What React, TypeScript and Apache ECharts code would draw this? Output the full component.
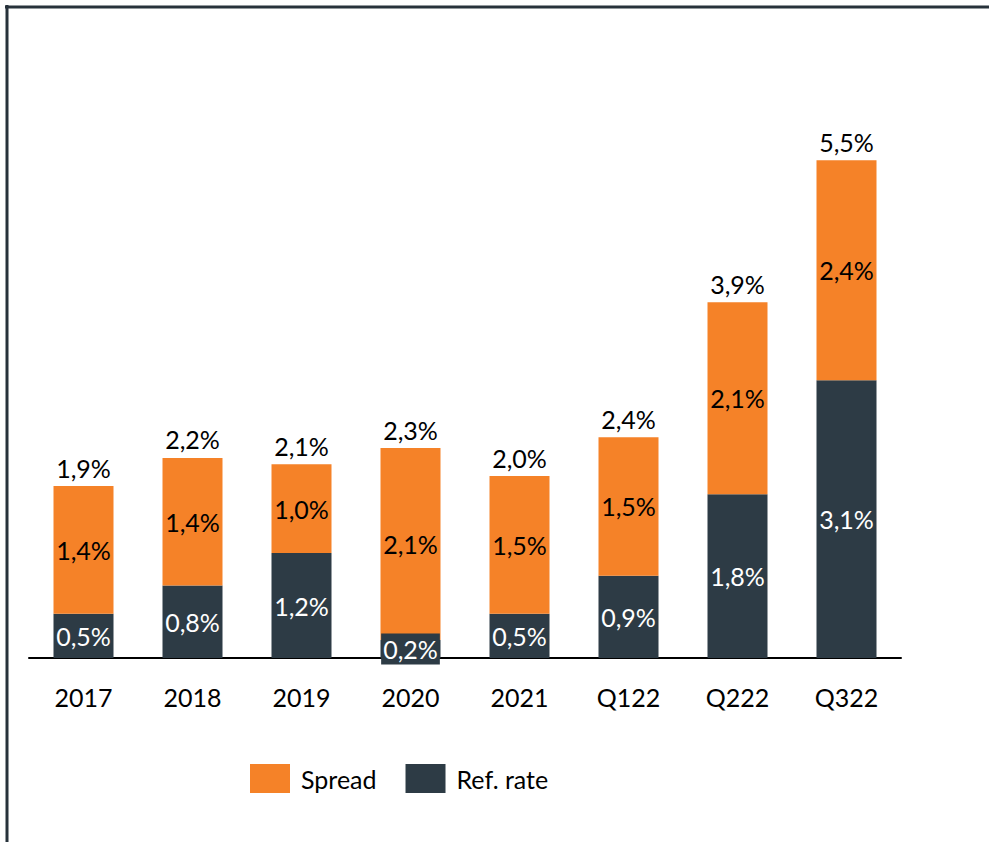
import React, { useEffect, useRef } from 'react';
import * as echarts from 'echarts';

const categories = ['2017', '2018', '2019', '2020', '2021', 'Q122', 'Q222', 'Q322'];
const refRate = [0.49, 0.8, 1.16, 0.2, 0.49, 0.91, 1.81, 3.07];
const spread = [1.41, 1.41, 0.98, 2.12, 1.52, 1.53, 2.12, 2.43];

const ORANGE = '#F58228';
const DARK = '#2D3B45';
const FONT = 'Lato';
const FS = 25;

const fmt = (v: number) => v.toFixed(1).replace('.', ',') + '%';

export default function App() {
  const ref = useRef<HTMLDivElement>(null);
  useEffect(() => {
    if (!ref.current) return;
    const chart = echarts.init(ref.current, null, { renderer: 'svg' });
    const totals = refRate.map((r, i) => r + spread[i]);
    chart.setOption({
      animation: false,
      textStyle: { fontFamily: FONT },
      graphic: [
        { type: 'line', shape: { x1: 5, y1: 7, x2: 989, y2: 7 }, style: { stroke: '#27323B', lineWidth: 3 } },
        { type: 'line', shape: { x1: 7, y1: 5, x2: 7, y2: 842 }, style: { stroke: '#27323B', lineWidth: 3 } },
      ],
      legend: {
        data: ['Spread', 'Ref. rate'],
        left: 245,
        top: 759,
        icon: 'rect',
        itemWidth: 40,
        itemHeight: 29,
        itemGap: 29,
        textStyle: { fontSize: FS, color: '#000', fontFamily: FONT, padding: [0, 0, 0, 6] },
      },
      grid: { left: 29, width: 872, top: 115, height: 543 },
      xAxis: {
        type: 'category',
        data: categories,
        axisLine: { lineStyle: { color: '#000', width: 2 } },
        axisTick: { show: false },
        axisLabel: { fontSize: FS, color: '#000', margin: 26, fontFamily: FONT },
      },
      yAxis: { type: 'value', min: 0, max: 6, show: false, splitLine: { show: false } },
      series: [
        {
          name: 'Ref. rate',
          type: 'bar',
          stack: 'a',
          barWidth: 60,
          itemStyle: { color: DARK },
          data: refRate.map((v, i) =>
            i === 3
              ? {
                  value: v,
                  label: { backgroundColor: DARK, padding: [4, 2, 2, 2] },
                }
              : v
          ),
          label: {
            show: true,
            position: 'inside',
            color: '#fff',
            fontSize: FS,
            fontFamily: FONT,
            formatter: (p: any) => fmt(refRate[p.dataIndex]),
          },
        },
        {
          name: 'Spread',
          type: 'bar',
          stack: 'a',
          barWidth: 60,
          itemStyle: { color: ORANGE },
          data: spread,
          label: {
            show: true,
            position: 'inside',
            color: '#000',
            fontSize: FS,
            fontFamily: FONT,
            formatter: (p: any) => fmt(spread[p.dataIndex]),
          },
        },
        {
          name: 'Total',
          type: 'bar',
          stack: 'a',
          barWidth: 60,
          itemStyle: { color: 'transparent' },
          data: totals.map(() => 0),
          label: {
            show: true,
            position: 'top',
            distance: 6,
            color: '#000',
            fontSize: FS,
            fontFamily: FONT,
            formatter: (p: any) => fmt(totals[p.dataIndex]),
          },
        },
      ],
    });
    return () => chart.dispose();
  }, []);
  return (
    <div
      ref={ref}
      style={{ position: 'absolute', left: 0, top: 0, width: 989, height: 842, background: '#fff' }}
    />
  );
}
